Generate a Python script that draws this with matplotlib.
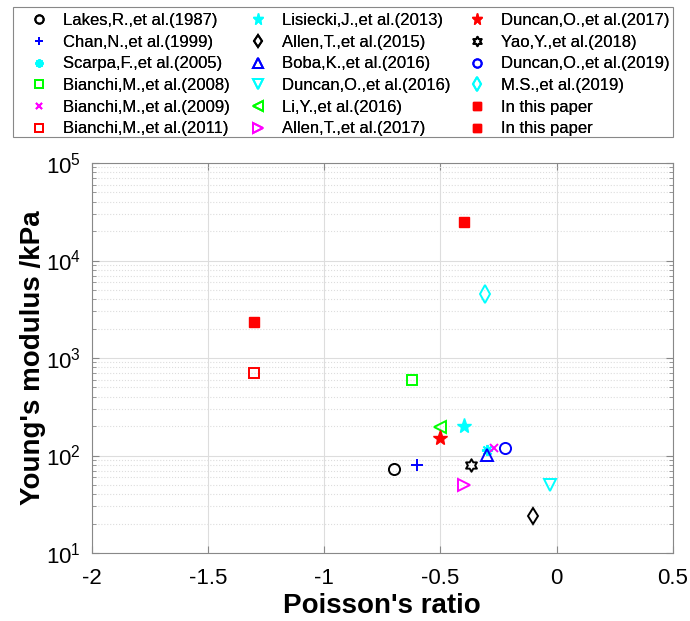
import matplotlib.pyplot as plt
from matplotlib.path import Path
from matplotlib.patches import Rectangle
import numpy as np

plt.rcParams['font.family'] = ['Liberation Sans', 'DejaVu Sans']
plt.rcParams['mathtext.fontset'] = 'custom'
plt.rcParams['mathtext.rm'] = 'Liberation Sans'

labels = ['Lakes,R.,et al.(1987)', 'Chan,N.,et al.(1999)', 'Scarpa,F.,et al.(2005)',
          'Bianchi,M.,et al.(2008)', 'Bianchi,M.,et al.(2009)', 'Bianchi,M.,et al.(2011)',
          'Lisiecki,J.,et al.(2013)', 'Allen,T.,et al.(2015)', 'Boba,K.,et al.(2016)',
          'Duncan,O.,et al.(2016)', 'Li,Y.,et al.(2016)', 'Allen,T.,et al.(2017)',
          'Duncan,O.,et al.(2017)', 'Yao,Y.,et al.(2018)', 'Duncan,O.,et al.(2019)',
          'M.S.,et al.(2019)', 'In this paper', 'In this paper']
poisson = [-0.70, -0.60, -0.30, -0.62, -0.27, -1.30,
           -0.40, -0.10, -0.30, -0.03, -0.50, -0.40,
           -0.50, -0.37, -0.22, -0.31, -1.30, -0.40]
modulus = [72, 80, 115, 600, 120, 700,
           200, 24, 102, 50, 195, 50,
           150, 80, 120, 4500, 2350, 25000]

# six-pointed star outline (matlab hexagram)
ang = np.pi / 2 + np.arange(12) * np.pi / 6
rad = np.where(np.arange(12) % 2 == 0, 1.0, 1 / np.sqrt(3))
hexv = np.column_stack([rad * np.cos(ang), rad * np.sin(ang)])
hexv = np.vstack([hexv, hexv[:1]])
hexagram = Path(hexv, [Path.MOVETO] + [Path.LINETO] * 11 + [Path.CLOSEPOLY])

markers = ['o', '+', (8, 2, 0), 's', 'x', 's', '*', 'd', '^', 'v', '<', '>',
           '*', hexagram, 'o', 'd', 's', 's']
colors = ['k', 'b', '#00ffff', '#00ff00', '#ff00ff', 'r', '#00ffff', 'k', 'b', '#00ffff',
          '#00ff00', '#ff00ff', 'r', 'k', 'b', '#00ffff', 'r', 'r']
filled = [False, False, False, False, False, False, True, False, False, False, False, False,
          True, False, False, False, True, True]
sizes = [8, 8, 8, 7, 6, 7, 11, 8, 9, 9, 9, 9, 11, 9, 8, 9, 7, 7]

fig = plt.figure(figsize=(6.9, 6.21), dpi=100)
ax = fig.add_axes([0.133, 0.1095, 0.842, 0.628])

handles = []
for i in range(len(labels)):
    if filled[i]:
        h, = ax.plot(poisson[i], modulus[i], linestyle='none', marker=markers[i],
                     color=colors[i], markerfacecolor=colors[i], markersize=sizes[i],
                     markeredgewidth=1.0, label=labels[i])
    else:
        h, = ax.plot(poisson[i], modulus[i], linestyle='none', marker=markers[i],
                     color=colors[i], markerfacecolor='none', markersize=sizes[i],
                     markeredgewidth=1.4, label=labels[i])
    handles.append(h)

ax.set_yscale('log')
ax.set_xlim(-2, 0.5)
ax.set_ylim(10, 1e5)
ax.set_xticks([-2, -1.5, -1, -0.5, 0, 0.5])
ax.set_xticklabels(['-2', '-1.5', '-1', '-0.5', '0', '0.5'])
ax.grid(True, which='major', color='#dddddd', linewidth=0.8)
ax.grid(True, which='minor', axis='y', color='#dddddd', linestyle=':', linewidth=0.8)
ax.tick_params(which='both', direction='in', labelsize=16, top=True, right=True, color='#888888')
ax.tick_params(which='major', length=5)
ax.tick_params(which='minor', length=3)
ax.tick_params(axis='x', pad=11)
ax.tick_params(axis='y', pad=8)
for s in ax.spines.values():
    s.set_color('#888888')
ax.set_xlabel("Poisson's ratio", fontsize=20, fontweight='bold', labelpad=3)
ax.set_ylabel("Young's modulus /kPa", fontsize=20, fontweight='bold', labelpad=0)

# legend: three columns of six, inside one frame
col_x = [30.7, 249.7, 468.7]
for c in range(3):
    lg = fig.legend(handles=handles[c * 6:(c + 1) * 6], loc='upper left',
                    bbox_to_anchor=(col_x[c] / 690, 1 - 13 / 621), frameon=False,
                    fontsize=12, handlelength=1.0, handletextpad=0.95, borderpad=0,
                    borderaxespad=0, labelspacing=0.4, markerscale=0.75)
    fig.add_artist(lg)
fig.patches.append(Rectangle((13 / 690, 1 - 137 / 621), 660 / 690, 130 / 621,
                             transform=fig.transFigure, fill=False, edgecolor='#888888',
                             linewidth=0.8))

fig.savefig('out.png', dpi=100)
